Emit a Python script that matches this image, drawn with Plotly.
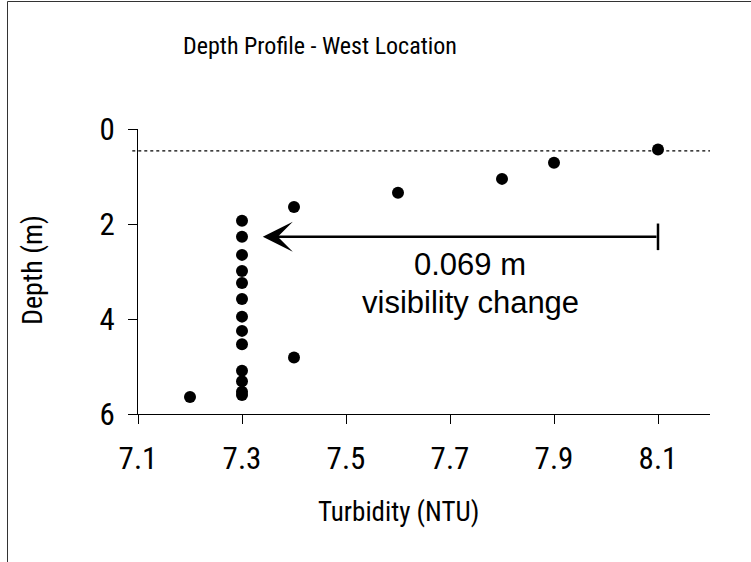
import plotly.graph_objects as go

# Depth profile readings (turbidity in NTU vs depth in m)
turbidity = [8.1, 7.9, 7.8, 7.6, 7.4,
             7.3, 7.3, 7.3, 7.3, 7.3, 7.3, 7.3, 7.3, 7.3, 7.3, 7.3, 7.3, 7.3,
             7.4, 7.2]
depth = [0.43, 0.71, 1.05, 1.34, 1.64,
         1.93, 2.27, 2.65, 2.99, 3.24, 3.58, 3.95, 4.25, 4.53, 5.09, 5.31, 5.53, 5.60,
         4.81, 5.64]

surface_depth = 0.46          # dotted reference line
arrow_depth = 2.27            # depth of the visibility arrow
arrow_start = 8.1             # turbidity where the arrow begins (capped end)
arrow_end = 7.34              # turbidity at the arrow tip
cap_half = 0.28               # half-height of the end cap (m)

x_ticks = [7.1, 7.3, 7.5, 7.7, 7.9, 8.1]
y_ticks = [0, 2, 4, 6]

NARROW = "Roboto Condensed, Liberation Sans, Arial, sans-serif"
PLAIN = "Liberation Sans, Arial, sans-serif"

# plot area in pixels
L, R, T, B = 138, 41, 129, 148
W, H = 751, 562
PW, PH = W - L - R, H - T - B


def px_x(p):
    return (p - L) / PW


def px_y(p):
    return (H - B - p) / PH


fig = go.Figure()

fig.add_trace(go.Scatter(
    x=turbidity, y=depth, mode="markers",
    marker=dict(color="black", size=12),
    showlegend=False, hoverinfo="x+y",
))

# end cap of the arrow
fig.add_trace(go.Scatter(
    x=[arrow_start, arrow_start], y=[arrow_depth - cap_half, arrow_depth + cap_half],
    mode="lines", line=dict(color="black", width=2.5),
    showlegend=False, hoverinfo="skip",
))

# dotted surface line
fig.add_shape(type="line", xref="paper", yref="y",
              x0=-0.01, x1=1, y0=surface_depth, y1=surface_depth,
              line=dict(color="black", width=1.3, dash="dot"))

# arrow
fig.add_annotation(
    x=arrow_end, y=arrow_depth, ax=arrow_start, ay=arrow_depth,
    xref="x", yref="y", axref="x", ayref="y",
    showarrow=True, arrowhead=3, arrowsize=2.0, arrowwidth=2.5,
    arrowcolor="black", text="",
)

fig.add_annotation(x=7.7385, y=2.86, xref="x", yref="y", text="0.069 m",
                   showarrow=False, xanchor="center", yanchor="middle",
                   font=dict(family=PLAIN, size=31, color="black"))
fig.add_annotation(x=7.7385, y=3.66, xref="x", yref="y", text="visibility change",
                   showarrow=False, xanchor="center", yanchor="middle",
                   font=dict(family=PLAIN, size=31, color="black"))

# chart title and axis titles
fig.add_annotation(x=px_x(320), y=px_y(46), xref="paper", yref="paper",
                   xanchor="center", yanchor="middle",
                   text="Depth Profile - West Location", showarrow=False,
                   font=dict(family=NARROW, size=24, color="black"))
fig.add_annotation(x=px_x(398), y=px_y(512), xref="paper", yref="paper",
                   xanchor="center", yanchor="middle",
                   text="Turbidity (NTU)", showarrow=False,
                   font=dict(family=NARROW, size=27, color="black"))
fig.add_annotation(x=px_x(32), y=px_y(270), xref="paper", yref="paper",
                   xanchor="center", yanchor="middle",
                   text="Depth (m)", showarrow=False, textangle=-90,
                   font=dict(family=NARROW, size=28, color="black"))

# outer chart frame
fig.add_shape(type="rect", xref="paper", yref="paper",
              x0=px_x(7.5), x1=px_x(800), y0=px_y(620), y1=px_y(1.5),
              line=dict(color="#333333", width=1), fillcolor="rgba(0,0,0,0)")

fig.update_layout(
    width=W, height=H,
    margin=dict(l=L, r=R, t=T, b=B),
    paper_bgcolor="white", plot_bgcolor="white",
    font=dict(family=NARROW, color="black"),
)

fig.update_xaxes(
    range=[7.1, 8.2], tickvals=x_ticks, ticktext=[f"{v:.1f}" for v in x_ticks],
    showgrid=False, zeroline=False, showline=True, linecolor="black", linewidth=1,
    ticks="outside", ticklen=9, tickcolor="black", tickwidth=1,
    ticklabelstandoff=8,
    tickfont=dict(family=NARROW, size=31, color="black"),
    automargin=False,
)
fig.update_yaxes(
    range=[6, 0], tickvals=y_ticks, ticktext=[str(v) for v in y_ticks],
    showgrid=False, zeroline=False, showline=True, linecolor="black", linewidth=1,
    ticks="outside", ticklen=9, tickcolor="black", tickwidth=1,
    ticklabelstandoff=7,
    tickfont=dict(family=NARROW, size=31, color="black"),
    automargin=False,
)

fig.write_html("out.html")
